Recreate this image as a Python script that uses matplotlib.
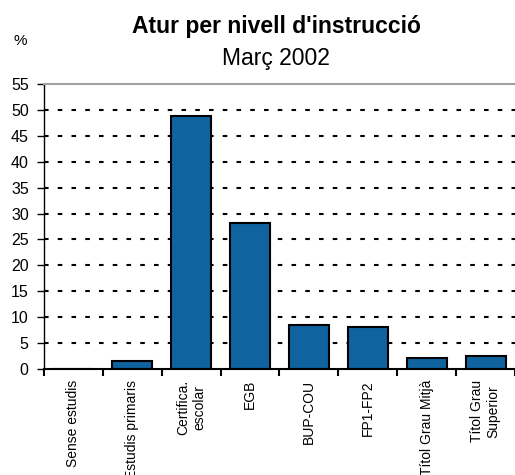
import numpy as np
import matplotlib.pyplot as plt

# data
categories = ["Sense estudis", "Estudis primaris", "Certifica.\nescolar", "EGB",
              "BUP-COU", "FP1-FP2", "Títol Grau Mitjà", "Títol Grau\nSuperior"]
values = [0.0, 1.6, 48.8, 28.2, 8.5, 8.1, 2.1, 2.6]
yticks = list(range(0, 60, 5))

plt.rcParams['font.family'] = ['Liberation Sans', 'DejaVu Sans']

fig = plt.figure(figsize=(5.15, 4.75), dpi=100)
ax = fig.add_axes([0.0854, 0.2232, 0.9146, 0.6])

x = np.arange(len(categories))
ax.bar(x, values, width=0.68, color='#0f64a0', edgecolor='black',
       linewidth=1.5, zorder=2)

ax.set_xlim(-0.5, len(categories) - 0.5)
ax.set_ylim(0, 55)
ax.set_yticks(yticks)
ax.tick_params(axis='y', direction='out', length=5, width=1, pad=6,
               labelsize=11.5)

# ticks on category boundaries, labels at the centres
ax.set_xticks(np.arange(len(categories) + 1) - 0.5)
ax.set_xticklabels([])
ax.tick_params(axis='x', which='major', direction='out', length=5, width=1.5)
ax.set_xticks(x, minor=True)
ax.set_xticklabels(categories, minor=True, rotation=90, va='top',
                   ha='center', multialignment='center', fontsize=10)
ax.tick_params(axis='x', which='minor', length=0, pad=8)

# dashed grid
for y in yticks[1:-1]:
    ax.axhline(y, color='black', linewidth=1.5, linestyle=(0, (2.2, 4.4)),
               zorder=1)

ax.spines['top'].set_color('#a0a0a0')
ax.spines['top'].set_linewidth(1.5)
ax.spines['right'].set_visible(False)
ax.spines['left'].set_linewidth(1)
ax.spines['bottom'].set_linewidth(1.5)
ax.spines['bottom'].set_zorder(3)

fig.text(0.536, 0.93, "Atur per nivell d'instrucció", ha='center',
         va='baseline', fontsize=16.5, fontweight='bold')
fig.text(0.536, 0.863, "Març 2002", ha='center', va='baseline', fontsize=16.5)
fig.text(0.04, 0.905, "%", ha='center', va='baseline', fontsize=11)

fig.savefig('out.png', dpi=100)
